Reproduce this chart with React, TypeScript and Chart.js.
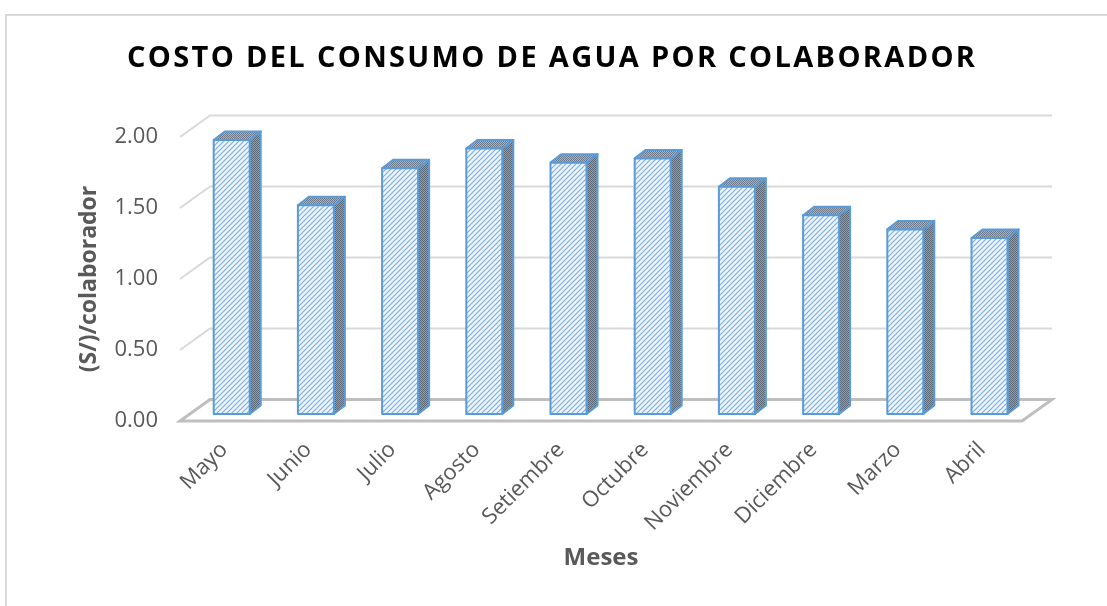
import React, { useEffect, useRef } from "react";
import { Chart, registerables } from "chart.js";

Chart.register(...registerables);

// ---- data ----
const categories = ["Mayo", "Junio", "Julio", "Agosto", "Setiembre", "Octubre", "Noviembre", "Diciembre", "Marzo", "Abril"];
const costValues = [1.93, 1.47, 1.73, 1.87, 1.77, 1.8, 1.6, 1.4, 1.3, 1.24];
const yTickValues = [0, 0.5, 1, 1.5, 2];
const chartTitle = "COSTO DEL CONSUMO DE AGUA POR COLABORADOR";
const xAxisTitle = "Meses";
const yAxisTitle = "(S/)/colaborador";

// ---- style ----
const FONT = '"Open Sans", "DejaVu Sans", sans-serif';
const GREY_TEXT = "#595959";
const WALL_DX = 30;
const WALL_DY = -21.5;
const FRONT_DX = 9.6;
const FRONT_DY = -7;
const BAR_DX = 11;
const BAR_DY = -8.5;

function makeStripePattern(ctx: CanvasRenderingContext2D) {
  const n = 5;
  const c = document.createElement("canvas");
  c.width = n;
  c.height = n;
  const g = c.getContext("2d")!;
  g.fillStyle = "#eef5fc";
  g.fillRect(0, 0, n, n);
  g.strokeStyle = "#7fb0e0";
  g.lineWidth = 1.2;
  for (const k of [0, n, 2 * n]) {
    g.beginPath();
    g.moveTo(k + 1, -1);
    g.lineTo(k - n - 1, n + 1);
    g.stroke();
  }
  return ctx.createPattern(c, "repeat")!;
}

function makeDotPattern(ctx: CanvasRenderingContext2D, dark: string, light: string) {
  const c = document.createElement("canvas");
  c.width = 2;
  c.height = 2;
  const g = c.getContext("2d")!;
  g.fillStyle = light;
  g.fillRect(0, 0, 2, 2);
  g.fillStyle = dark;
  g.fillRect(0, 0, 1, 1);
  g.fillRect(1, 1, 1, 1);
  return ctx.createPattern(c, "repeat")!;
}

const threeDPlugin = {
  id: "threeD",
  beforeDraw(chart: any) {
    const ctx = chart.ctx as CanvasRenderingContext2D;
    ctx.save();
    ctx.fillStyle = "#ffffff";
    ctx.fillRect(0, 0, chart.width, chart.height);
    ctx.strokeStyle = "#d9d9d9";
    ctx.lineWidth = 2;
    ctx.beginPath();
    ctx.moveTo(6, chart.height + 5);
    ctx.lineTo(6, 15);
    ctx.lineTo(chart.width + 5, 15);
    ctx.stroke();
    ctx.restore();
  },
  beforeDatasetsDraw(chart: any) {
    const ctx = chart.ctx as CanvasRenderingContext2D;
    const y = chart.scales.y;
    const { left, right } = chart.chartArea;
    ctx.save();
    ctx.strokeStyle = "#d9d9d9";
    ctx.lineWidth = 2;
    for (const v of yTickValues) {
      if (v === 0) continue;
      const py = y.getPixelForValue(v);
      ctx.beginPath();
      ctx.moveTo(left, py);
      ctx.lineTo(left + WALL_DX, py + WALL_DY);
      ctx.lineTo(right + WALL_DX, py + WALL_DY);
      ctx.stroke();
    }
    const p0 = y.getPixelForValue(0);
    ctx.strokeStyle = "#bfbfbf";
    ctx.lineWidth = 3;
    ctx.lineJoin = "miter";
    ctx.beginPath();
    ctx.moveTo(left, p0);
    ctx.lineTo(right, p0);
    ctx.lineTo(right + WALL_DX, p0 + WALL_DY);
    ctx.lineTo(left + WALL_DX, p0 + WALL_DY);
    ctx.closePath();
    ctx.stroke();
    ctx.restore();
  },
  afterDatasetsDraw(chart: any) {
    const ctx = chart.ctx as CanvasRenderingContext2D;
    const front = makeStripePattern(ctx);
    const side = makeDotPattern(ctx, "#5d6977", "#8f9cab");
    const top = makeDotPattern(ctx, "#6c7a8c", "#a5b2c2");
    const meta = chart.getDatasetMeta(0);
    ctx.save();
    ctx.lineWidth = 2;
    ctx.strokeStyle = "#5b9bd5";
    ctx.lineJoin = "round";
    meta.data.forEach((el: any) => {
      const { x, y, base, width } = el.getProps(["x", "y", "base", "width"], true);
      const x0 = x - width / 2 + FRONT_DX;
      const x1 = x0 + width;
      const yt = y + FRONT_DY;
      const yb = base + FRONT_DY;
      ctx.beginPath();
      ctx.moveTo(x1, yb);
      ctx.lineTo(x1, yt);
      ctx.lineTo(x1 + BAR_DX, yt + BAR_DY);
      ctx.lineTo(x1 + BAR_DX, yb + BAR_DY);
      ctx.closePath();
      ctx.fillStyle = side;
      ctx.fill();
      ctx.stroke();
      ctx.beginPath();
      ctx.moveTo(x0, yt);
      ctx.lineTo(x1, yt);
      ctx.lineTo(x1 + BAR_DX, yt + BAR_DY);
      ctx.lineTo(x0 + BAR_DX, yt + BAR_DY);
      ctx.closePath();
      ctx.fillStyle = top;
      ctx.fill();
      ctx.stroke();
      ctx.beginPath();
      ctx.rect(x0, yt, width, yb - yt);
      ctx.fillStyle = front;
      ctx.fill();
      ctx.stroke();
    });
    ctx.restore();
  },
  afterDraw(chart: any) {
    const ctx = chart.ctx as CanvasRenderingContext2D;
    ctx.save();
    ctx.font = `bold 29px ${FONT}`;
    ctx.fillStyle = "#000000";
    ctx.textAlign = "left";
    ctx.textBaseline = "alphabetic";
    const targetLeft = 127;
    const targetWidth = 848;
    (ctx as any).letterSpacing = "0px";
    const w = ctx.measureText(chartTitle).width;
    const spacing = (targetWidth - w) / (chartTitle.length - 1);
    (ctx as any).letterSpacing = `${spacing}px`;
    ctx.fillText(chartTitle, targetLeft, 67);
    ctx.restore();
  },
};

export default function App() {
  const ref = useRef<HTMLCanvasElement>(null);
  useEffect(() => {
    if (!ref.current) return;
    const chart = new Chart(ref.current, {
      type: "bar",
      data: {
        labels: categories,
        datasets: [
          {
            label: "Costo",
            data: costValues,
            backgroundColor: "rgba(0,0,0,0)",
            borderWidth: 0,
            barPercentage: 0.4276,
            categoryPercentage: 1,
          },
        ],
      },
      options: {
        responsive: false,
        animation: false,
        layout: { padding: { top: 137, right: 85, bottom: 0, left: 0 } },
        plugins: {
          legend: { display: false },
          title: { display: false },
          tooltip: { enabled: false },
        },
        scales: {
          x: {
            grid: { display: false },
            border: { display: false },
            ticks: {
              autoSkip: false,
              minRotation: 45,
              maxRotation: 45,
              padding: 8,
              labelOffset: 2,
              color: GREY_TEXT,
              font: { family: FONT, size: 22 },
            },
            title: {
              display: true,
              text: xAxisTitle,
              color: GREY_TEXT,
              font: { family: FONT, size: 24, weight: "bold" },
              padding: { top: 0, bottom: 33 },
            },
            afterFit: (s: any) => {
              s.height = 185;
            },
          },
          y: {
            min: 0,
            max: 2,
            afterBuildTicks: (s: any) => {
              s.ticks = yTickValues.map((v) => ({ value: v }));
            },
            grid: { display: false, drawTicks: false },
            border: { display: false },
            ticks: {
              padding: 22,
              color: GREY_TEXT,
              font: { family: FONT, size: 22 },
              callback: (v: any) => Number(v).toFixed(2),
            },
            title: {
              display: true,
              text: yAxisTitle,
              color: GREY_TEXT,
              font: { family: FONT, size: 23, weight: "bold" },
              padding: { top: 76, bottom: 0 },
            },
            afterFit: (s: any) => {
              s.width = 180;
            },
          },
        },
      } as any,
      plugins: [threeDPlugin],
    });
    return () => chart.destroy();
  }, []);
  return (
    <div style={{ position: "absolute", left: 0, top: 0, width: 1107, height: 606, background: "#fff" }}>
      <canvas ref={ref} width={1107} height={606} style={{ display: "block" }} />
    </div>
  );
}
